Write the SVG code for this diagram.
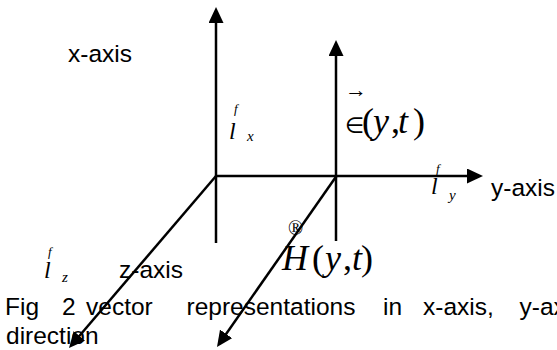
<svg xmlns="http://www.w3.org/2000/svg" width="557" height="350" viewBox="0 0 557 350">
<style>
.ax{stroke:#000;stroke-width:2.5;fill:none}
.sans{font-family:"Liberation Sans",Arial,sans-serif;font-size:24.5px;fill:#000}
.mi{font-family:"Liberation Serif","Times New Roman",serif;font-style:italic;fill:#000}
.mr{font-family:"Liberation Serif","Times New Roman",serif;fill:#000}
.sym{font-family:"DejaVu Sans",sans-serif;fill:#000}
</style>
<defs>
<marker id="arr" markerUnits="userSpaceOnUse" markerWidth="16" markerHeight="15" refX="12" refY="7.5" orient="auto" viewBox="0 0 16 15">
<path d="M0,0 L16,7.5 L0,15 z" fill="#000"/>
</marker>
</defs>
<rect width="557" height="350" fill="#fff"/>
<g id="connectors">
<line class="ax" x1="216" y1="243" x2="216" y2="11" marker-end="url(#arr)"/>
<line class="ax" x1="336" y1="241" x2="336" y2="44" marker-end="url(#arr)"/>
<line class="ax" x1="215" y1="176" x2="479" y2="176" marker-end="url(#arr)"/>
<line class="ax" x1="216" y1="176" x2="71.6" y2="345" marker-end="url(#arr)"/>
<line class="ax" x1="336.5" y1="176" x2="219.3" y2="343.7" marker-end="url(#arr)"/>
</g>
<g id="x-axis-label"><text class="sans" x="68" y="62">x-axis</text></g>
<g id="y-axis-label"><text class="sans" x="491" y="196">y-axis</text></g>
<g id="z-axis-label"><text class="sans" x="119" y="278">z-axis</text></g>
<g id="lx">
<text class="mi" x="229" y="139" font-size="24">l</text>
<text class="mi" x="234" y="113" font-size="13">f</text>
<text class="mi" x="247" y="141" font-size="15">x</text>
</g>
<g id="ly">
<text class="mi" x="431" y="194" font-size="24">l</text>
<text class="mi" x="436" y="173" font-size="13">f</text>
<text class="mi" x="449" y="200" font-size="15">y</text>
</g>
<g id="lz">
<text class="mi" x="44" y="278" font-size="24">l</text>
<text class="mi" x="48" y="256" font-size="13">f</text>
<text class="mi" x="62" y="282" font-size="15">z</text>
</g>
<g id="E-field">
<text class="mr" x="345" y="97" font-size="22">→</text>
<text y="133"><tspan class="sym" x="345" font-size="22">∈</tspan><tspan class="mr" x="362" font-size="36">(</tspan><tspan class="mi" x="373" font-size="36">y</tspan><tspan class="mr" x="391" font-size="36">,</tspan><tspan class="mi" x="398" font-size="36">t</tspan><tspan class="mr" x="413" font-size="36">)</tspan></text>
</g>
<g id="H-field">
<text class="mr" x="295.5" y="235" font-size="20" text-anchor="middle">®</text>
<text y="270" font-size="36"><tspan class="mi" x="282">H</tspan><tspan class="mr" x="312">(</tspan><tspan class="mi" x="325">y</tspan><tspan class="mr" x="343">,</tspan><tspan class="mi" x="352">t</tspan><tspan class="mr" x="361">)</tspan></text>
</g>
<g id="caption">
<text class="sans" y="315"><tspan x="5">Fig</tspan><tspan x="62">2</tspan><tspan x="86">vector</tspan><tspan x="186.5">representations</tspan><tspan x="383">in</tspan><tspan x="423">x-axis,</tspan><tspan x="519.5">y-axis</tspan></text>
<text class="sans" x="6" y="344">direction</text>
</g>
</svg>
